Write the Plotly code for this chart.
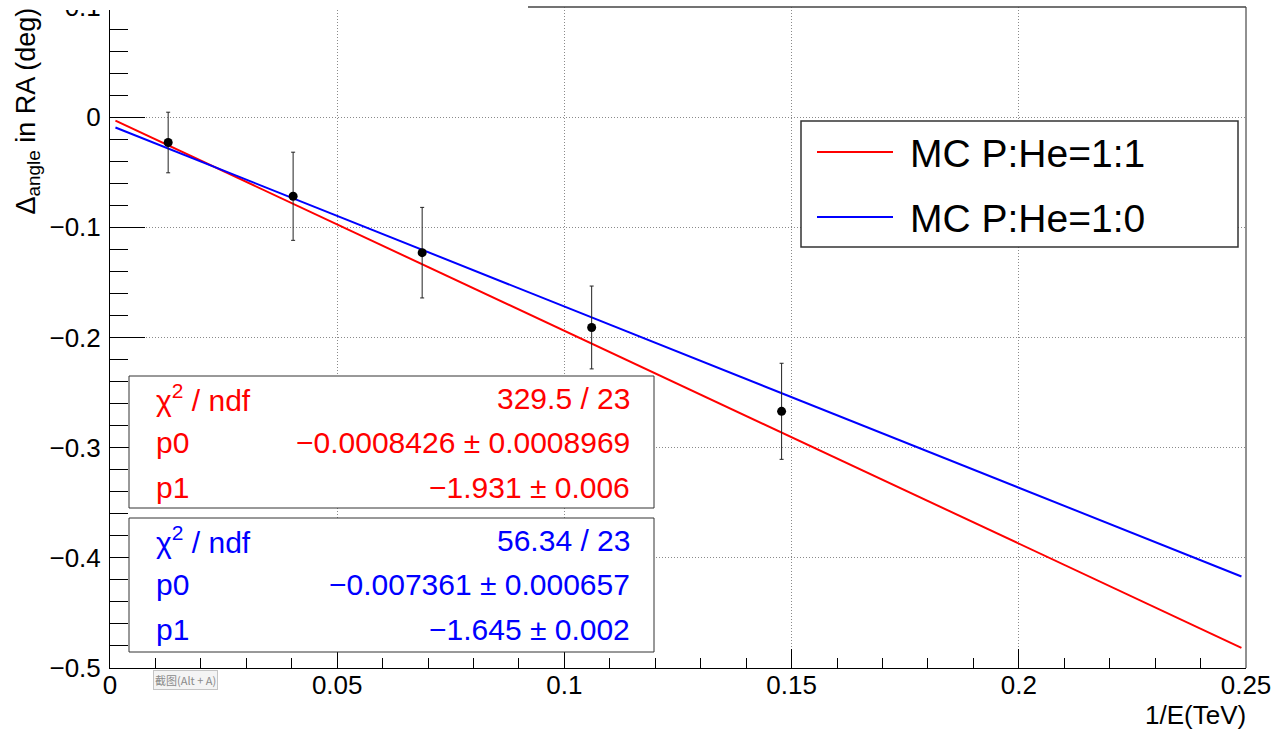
import plotly.graph_objects as go

# Measured points: 1/E (TeV) vs RA angle offset (deg)
x_pts = [0.0128, 0.0403, 0.0687, 0.1060, 0.1478]
y_pts = [-0.0230, -0.0718, -0.1230, -0.1909, -0.2670]
y_err = [0.0275, 0.0400, 0.0411, 0.0376, 0.0436]

# Linear fits y = p0 + p1 * x
fit_labels = ["MC P:He=1:1", "MC P:He=1:0"]
fit_colors = ["#ff0000", "#0000ff"]
p0 = [-0.0008426, -0.007361]
p0_err = [0.0008969, 0.000657]
p1 = [-1.931, -1.645]
p1_err = [0.006, 0.002]
chi2 = [329.5, 56.34]
ndf = [23, 23]
fit_range = [0.0012, 0.249]

x_ticks = [0, 0.05, 0.1, 0.15, 0.2, 0.25]
y_ticks = [-0.5, -0.4, -0.3, -0.2, -0.1, 0, 0.1]

W, H = 1273, 729
ML, MR, MT, MB = 110, 27, 7, 61
PW, PH = W - ML - MR, H - MT - MB
FONT = "Liberation Sans, Arial, Helvetica, sans-serif"


def px(x):
    return (x - ML) / PW


def py(y):
    return (H - MB - y) / PH


def num(v):
    return str(v).replace("-", "\u2212")


fig = go.Figure()

for i in range(2):
    fx = list(fit_range)
    fy = [p0[i] + p1[i] * x for x in fx]
    fig.add_trace(go.Scatter(
        x=fx, y=fy, mode="lines", name=fit_labels[i],
        line=dict(color=fit_colors[i], width=2), showlegend=False,
    ))

fig.add_trace(go.Scatter(
    x=x_pts, y=y_pts, mode="markers", showlegend=False,
    marker=dict(color="black", size=9),
    error_y=dict(type="data", array=y_err, color="#222222", thickness=1, width=2),
))

grid = dict(showgrid=True, gridcolor="#8a8a8a", griddash="1px,2px", gridwidth=1)

fig.update_xaxes(
    range=[0, 0.25], tickvals=x_ticks, ticktext=[num(v) for v in x_ticks],
    ticks="inside", ticklen=19, tickwidth=1, tickcolor="black",
    showline=True, linecolor="black", linewidth=1, zeroline=False,
    tickfont=dict(family=FONT, size=26, color="black"), ticklabelstandoff=-6,
    ticklabeloverflow="allow", automargin=False,
    minor=dict(ticks="inside", ticklen=10, dtick=0.01, tick0=0, tickcolor="black", showgrid=False),
    **grid,
)
fig.update_yaxes(
    range=[-0.5, 0.1], tickvals=y_ticks, ticktext=[num(v) for v in y_ticks],
    ticks="inside", ticklen=35, tickwidth=1, tickcolor="black",
    showline=True, linecolor="black", linewidth=1, zeroline=False,
    tickfont=dict(family=FONT, size=26, color="black"), ticklabelstandoff=3,
    ticklabeloverflow="allow", automargin=False,
    minor=dict(ticks="inside", ticklen=18, dtick=0.02, tick0=0, tickcolor="black", showgrid=False),
    **grid,
)

shapes = []
annotations = []

# frame: right edge and the visible part of the top edge
shapes.append(dict(type="line", xref="paper", yref="paper", x0=1, x1=1, y0=0, y1=1,
                   line=dict(color="#222", width=1), layer="above"))
shapes.append(dict(type="line", xref="paper", yref="paper", x0=px(528), x1=1, y0=1, y1=1,
                   line=dict(color="#444", width=1.5), layer="above"))
# blank title strip over the top-left corner
shapes.append(dict(type="rect", xref="paper", yref="paper", x0=px(0), x1=px(528),
                   y0=py(10), y1=py(-2), fillcolor="white", line=dict(width=0), layer="above"))

# legend box
shapes.append(dict(type="rect", xref="paper", yref="paper", x0=px(801), x1=px(1238),
                   y0=py(247), y1=py(121), fillcolor="white",
                   line=dict(color="#333", width=1.5), layer="above"))
legend_rows = [152, 217]
for i in range(2):
    yl = legend_rows[i]
    shapes.append(dict(type="line", xref="paper", yref="paper", x0=px(817), x1=px(893),
                       y0=py(yl), y1=py(yl), line=dict(color=fit_colors[i], width=2), layer="above"))
    annotations.append(dict(xref="paper", yref="paper", x=px(908), y=py(yl + 1), xanchor="left",
                            yanchor="middle", text=fit_labels[i], showarrow=False,
                            font=dict(family=FONT, size=39, color="black")))

# fit statistics boxes
stat_boxes = [(376, 508), (518, 652)]
for i in range(2):
    top, bot = stat_boxes[i]
    shapes.append(dict(type="rect", xref="paper", yref="paper", x0=px(129), x1=px(654),
                       y0=py(bot), y1=py(top), fillcolor="white",
                       line=dict(color="#333", width=1), layer="above"))
    rows = [
        ("\u03c7<sup>2</sup> / ndf", f"{num(chi2[i])} / {ndf[i]}"),
        ("p0", f"{num(p0[i])} \u00b1 {num(p0_err[i])}"),
        ("p1", f"{num(p1[i])} \u00b1 {num(p1_err[i])}"),
    ]
    for k, (lab, val) in enumerate(rows):
        yc = top + 22 + k * 44.5
        annotations.append(dict(xref="paper", yref="paper", x=px(154), y=py(yc), xanchor="left",
                                yanchor="middle", text=lab, showarrow=False,
                                font=dict(family=FONT, size=30, color=fit_colors[i])))
        annotations.append(dict(xref="paper", yref="paper", x=px(632), y=py(yc), xanchor="right",
                                yanchor="middle", text=val, showarrow=False,
                                font=dict(family=FONT, size=30, color=fit_colors[i])))

# axis titles
annotations.append(dict(xref="paper", yref="paper", x=px(1248), y=py(715), xanchor="right",
                        yanchor="middle", text="1/E(TeV)", showarrow=False,
                        font=dict(family=FONT, size=26, color="black")))
annotations.append(dict(xref="paper", yref="paper", x=px(28), y=py(6), xanchor="center",
                        yanchor="top", text="\u0394<sub>angle</sub> in RA (deg)", textangle=-90,
                        showarrow=False, font=dict(family=FONT, size=27, color="black")))

# screenshot-tool hint button
annotations.append(dict(xref="paper", yref="paper", x=px(185.5), y=py(679.5), xanchor="center",
                        yanchor="middle", text="截图(Alt + A)", showarrow=False,
                        font=dict(family="Noto Sans CJK SC", size=11, color="#8a8a8a"),
                        bgcolor="#f4f4f4", bordercolor="#c4c4c4", borderwidth=1, borderpad=1))

fig.update_layout(
    width=W, height=H,
    margin=dict(l=ML, r=MR, t=MT, b=MB),
    paper_bgcolor="white", plot_bgcolor="white",
    showlegend=False,
    shapes=shapes, annotations=annotations,
)

fig.write_html("out.html")
